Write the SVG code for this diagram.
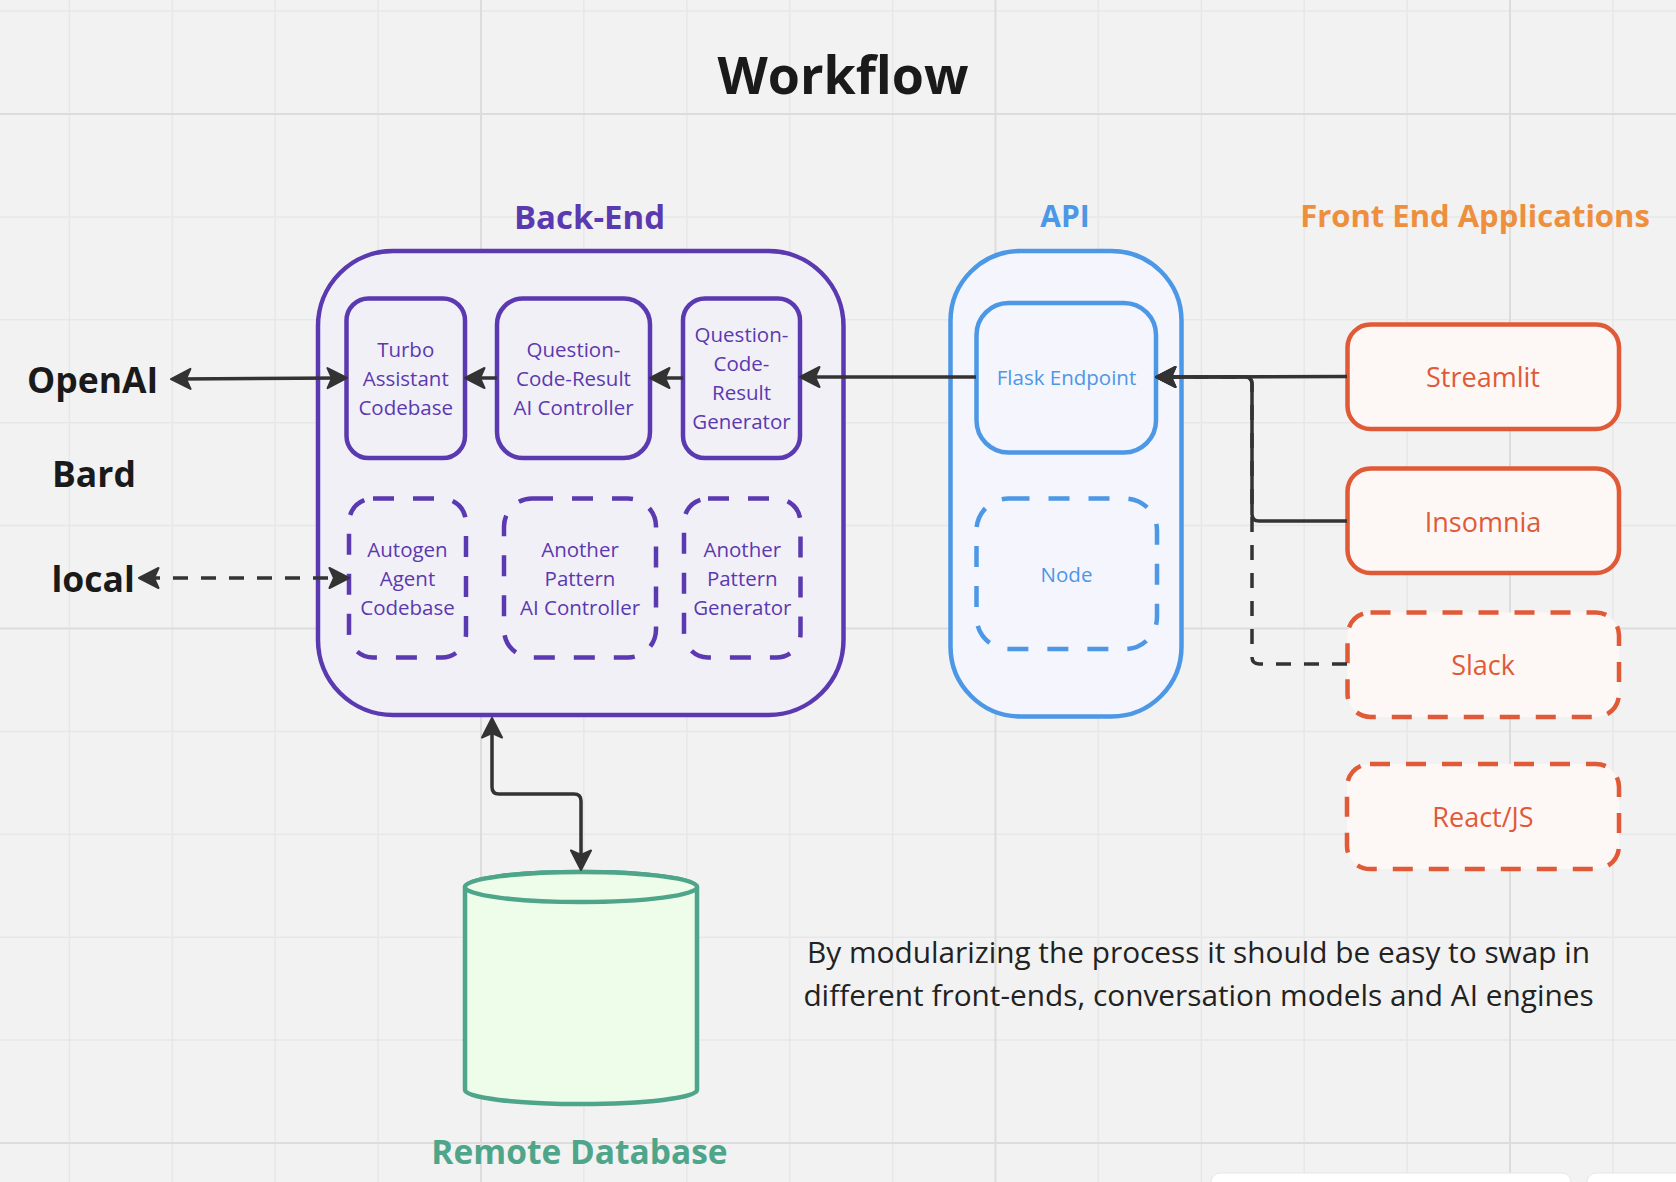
<svg xmlns="http://www.w3.org/2000/svg" width="1676" height="1182" viewBox="0 0 1676 1182">
<defs>
<style>
.minor{stroke:#e7e7e7;stroke-width:1.5}
.major{stroke:#dcdcdc;stroke-width:2}
text{font-family:"Open Sans","Noto Sans","Liberation Sans",sans-serif}
.h{font-weight:700}
.pbox{fill:#f2f0f7;stroke:#5b39b0;stroke-width:4.5}
.pdash{fill:#f2f0f7;stroke:#5b39b0;stroke-width:4.5;stroke-dasharray:21 19}
.ptxt{fill:#5b39b0;font-size:20.5px;text-anchor:middle}
.bbox{fill:#f5f5fd;stroke:#4c97e6;stroke-width:4.5}
.bdash{fill:#f5f5fd;stroke:#4c97e6;stroke-width:4.5;stroke-dasharray:21 19}
.btxt{fill:#4c97e6;font-size:20.5px;text-anchor:middle}
.rbox{fill:#fdf7f6;stroke:#e05a37;stroke-width:4.5}
.rdash{fill:#fdf7f6;stroke:#e05a37;stroke-width:4.5;stroke-dasharray:20 16}
.rtxt{fill:#e05a37;font-size:27px;text-anchor:middle}
.con{fill:none;stroke:#333;stroke-width:3.5;stroke-linejoin:round}
.dash{stroke-dasharray:15 13}
</style>
<marker id="arr" viewBox="0 0 22 24" refX="15" refY="12" markerWidth="22" markerHeight="24" markerUnits="userSpaceOnUse" orient="auto-start-reverse">
<path d="M1.5,2 L21,12 L1.5,22 L6,12 Z" fill="#333" stroke="#333" stroke-width="2" stroke-linejoin="round"/>
</marker>
</defs>
<rect width="1676" height="1182" fill="#f2f2f2"/>
<g id="grid">
<path class="minor" d="M69.4,0V1182M172.3,0V1182M275.2,0V1182M378.1,0V1182M583.9,0V1182M686.8,0V1182M789.7,0V1182M892.6,0V1182M1098.4,0V1182M1201.3,0V1182M1304.2,0V1182M1407.1,0V1182M1612.9,0V1182"/>
<path class="minor" d="M0,11.1H1676M0,216.9H1676M0,319.8H1676M0,422.7H1676M0,525.6H1676M0,731.4H1676M0,834.3H1676M0,937.2H1676M0,1040.1H1676"/>
<path class="major" d="M481,0V1182M995.5,0V1182M1510,0V1182M0,114H1676M0,628.5H1676M0,1143H1676"/>
</g>
<text x="843" y="94" class="h" font-size="52" fill="#1a1a1a" text-anchor="middle">Workflow</text>
<text x="589.5" y="229" class="h" font-size="33" fill="#5b39b0" text-anchor="middle">Back-End</text>
<text x="1065" y="227" class="h" font-size="30" fill="#4c97e6" text-anchor="middle">API</text>
<text x="1475" y="227" class="h" font-size="31" fill="#ee8f3e" text-anchor="middle">Front End Applications</text>
<text x="27" y="393" class="h" font-size="35.5" fill="#1a1a1a">OpenAI</text>
<text x="52" y="487" class="h" font-size="35.5" fill="#1a1a1a">Bard</text>
<text x="51.5" y="592" class="h" font-size="35.5" fill="#1a1a1a">local</text>
<g id="backend">
<rect class="pbox" x="318" y="251" width="525.5" height="464" rx="75" stroke-width="5"/>
</g>
<g id="turbo">
<rect class="pbox" x="346.5" y="298.5" width="118.5" height="159.5" rx="22"/>
<text class="ptxt"><tspan x="405.7" y="357">Turbo</tspan><tspan x="405.7" y="386">Assistant</tspan><tspan x="405.7" y="415">Codebase</tspan></text>
</g>
<g id="qcr-controller">
<rect class="pbox" x="497" y="298.5" width="153" height="159.5" rx="26"/>
<text class="ptxt"><tspan x="573.5" y="357">Question-</tspan><tspan x="573.5" y="386">Code-Result</tspan><tspan x="573.5" y="415">AI Controller</tspan></text>
</g>
<g id="qcr-generator">
<rect class="pbox" x="683" y="298.5" width="117" height="159.5" rx="22"/>
<text class="ptxt"><tspan x="741.5" y="342">Question-</tspan><tspan x="741.5" y="371">Code-</tspan><tspan x="741.5" y="400">Result</tspan><tspan x="741.5" y="429">Generator</tspan></text>
</g>
<g id="autogen">
<rect class="pdash" x="349" y="498.5" width="117" height="159" rx="24"/>
<text class="ptxt"><tspan x="407.5" y="557">Autogen</tspan><tspan x="407.5" y="586">Agent</tspan><tspan x="407.5" y="615">Codebase</tspan></text>
</g>
<g id="another-controller">
<rect class="pdash" x="504" y="498.5" width="152" height="159" rx="28"/>
<text class="ptxt"><tspan x="580" y="557">Another</tspan><tspan x="580" y="586">Pattern</tspan><tspan x="580" y="615">AI Controller</tspan></text>
</g>
<g id="another-generator">
<rect class="pdash" x="684" y="498.5" width="116.5" height="159" rx="24"/>
<text class="ptxt"><tspan x="742.3" y="557">Another</tspan><tspan x="742.3" y="586">Pattern</tspan><tspan x="742.3" y="615">Generator</tspan></text>
</g>
<g id="api">
<rect class="bbox" x="950.5" y="251" width="231" height="465.5" rx="70"/>
</g>
<g id="flask">
<rect class="bbox" x="976.5" y="303" width="179.5" height="149.5" rx="32"/>
<text class="btxt" x="1066.5" y="385">Flask Endpoint</text>
</g>
<g id="node">
<rect class="bdash" x="976.5" y="498.5" width="180.5" height="150.5" rx="32"/>
<text class="btxt" x="1066.5" y="582">Node</text>
</g>
<g id="streamlit">
<rect class="rbox" x="1347.5" y="324.5" width="271.5" height="104.5" rx="23"/>
<text class="rtxt" x="1483" y="387">Streamlit</text>
</g>
<g id="insomnia">
<rect class="rbox" x="1347.5" y="468.5" width="271.5" height="104.5" rx="23"/>
<text class="rtxt" x="1483" y="532">Insomnia</text>
</g>
<g id="slack">
<rect class="rdash" x="1347.5" y="612.5" width="271.5" height="104.5" rx="23"/>
<text class="rtxt" x="1483" y="675">Slack</text>
</g>
<g id="react">
<rect class="rdash" x="1347" y="764" width="272" height="105" rx="23"/>
<text class="rtxt" x="1483" y="827">React/JS</text>
</g>
<g id="database">
<path d="M465,887 L465,1090 A116,14 0 0 0 697,1090 L697,887 A116,15 0 0 0 465,887 Z" fill="#edfde9" stroke="#4ea58a" stroke-width="4.5"/>
<ellipse cx="581" cy="887" rx="116" ry="15" fill="#edfde9" stroke="#4ea58a" stroke-width="4.5"/>
<text x="579.5" y="1164" class="h" font-size="33.5" fill="#4ea58a" text-anchor="middle">Remote Database</text>
</g>
<text font-size="29.8" fill="#222" text-anchor="middle"><tspan x="1198.5" y="963">By modularizing the process it should be easy to swap in</tspan><tspan x="1198.5" y="1006">different front-ends, conversation models and AI engines</tspan></text>
<g id="connectors">
<path class="con" d="M177,379 L341,378" marker-start="url(#arr)" marker-end="url(#arr)"/>
<path class="con dash" d="M145,578 L343,578" marker-start="url(#arr)" marker-end="url(#arr)"/>
<path class="con" d="M497,378 L471,378" marker-end="url(#arr)"/>
<path class="con" d="M683,378 L656,378" marker-end="url(#arr)"/>
<path class="con" d="M976,377 L806,377" marker-end="url(#arr)"/>
<path class="con dash" d="M1347,664 L1259,664 Q1252,664 1252,657 L1252,384 Q1252,377 1245,377 L1162,377" marker-end="url(#arr)"/>
<path class="con" d="M1347,521 L1259,521 Q1252,521 1252,514 L1252,384 Q1252,377 1245,377 L1162,377" marker-end="url(#arr)"/>
<path class="con" d="M1347,376.5 L1162,377" marker-end="url(#arr)"/>
<path class="con" d="M492,724 L492,787 Q492,794 499,794 L574,794 Q581,794 581,801 L581,864" marker-start="url(#arr)" marker-end="url(#arr)"/>
</g>
<g id="toolbar">
<rect x="1211" y="1173" width="360" height="30" rx="9" fill="#ffffff" stroke="#e6e6e6" stroke-width="1"/>
<rect x="1587" y="1173" width="110" height="30" rx="9" fill="#ffffff" stroke="#e6e6e6" stroke-width="1"/>
</g>
</svg>
